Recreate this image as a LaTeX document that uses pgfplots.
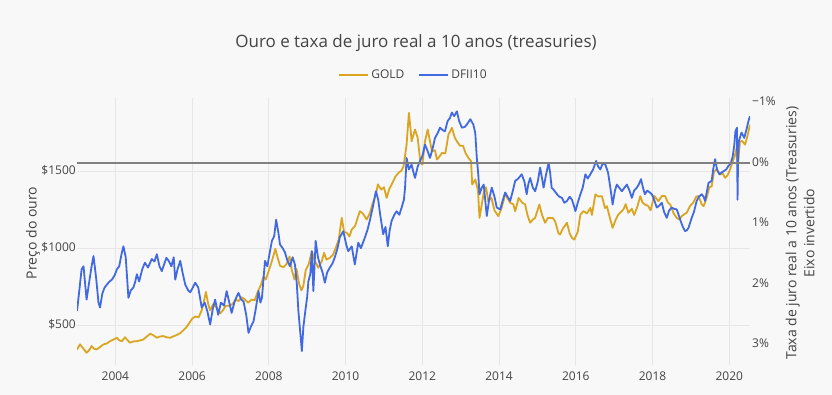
\documentclass[border=0pt]{standalone}
\usepackage{fontspec}
\setmainfont{Open Sans}
\usepackage{pgfplots}
\pgfplotsset{compat=1.18}
\definecolor{bg}{HTML}{F8F8F8}
\definecolor{gridc}{HTML}{E6E6E6}
\definecolor{txt}{HTML}{444444}
\definecolor{goldc}{HTML}{DAA520}
\definecolor{bluec}{HTML}{4169E1}
\definecolor{zeroc}{HTML}{808080}
\pgfplotsset{base/.style={
  at={(77pt,30pt)}, anchor=south west, scale only axis,
  width=673pt, height=267pt,
  xmin=2003.0, xmax=2020.54,
  axis line style={draw=none}, major tick length=0pt,
  tick label style={font=\fontsize{12}{14}\selectfont, text=txt},
}}
\begin{document}
\begin{tikzpicture}
\fill[bg] (0pt,0pt) rectangle (832pt,395pt);
\useasboundingbox (0pt,0pt) rectangle (832pt,395pt);
\begin{axis}[base,
  ymin=245, ymax=1980,
  xtick={2004,2006,2008,2010,2012,2014,2016,2018,2020},
  xticklabels={2004,2006,2008,2010,2012,2014,2016,2018,2020},
  ytick={500,1000,1500},
  yticklabels={\$500,\$1000,\$1500},
  xticklabel style={anchor=base, inner sep=0pt, yshift=-16pt},
  yticklabel style={anchor=mid east, inner sep=0pt, xshift=-1pt},
  grid=major, major grid style={gridc, line width=0.9pt},
]
\addplot[goldc, line width=1.8pt, line join=round] table {
2003.00 346
2003.08 379
2003.17 350
2003.25 325
2003.33 345
2003.38 368
2003.45 350
2003.51 346
2003.60 362
2003.69 379
2003.78 385
2003.86 400
2003.95 410
2004.04 422
2004.10 405
2004.17 400
2004.25 425
2004.32 405
2004.38 390
2004.47 398
2004.56 400
2004.65 405
2004.73 411
2004.82 430
2004.91 448
2004.98 440
2005.08 422
2005.16 430
2005.25 433
2005.34 425
2005.43 422
2005.50 430
2005.60 440
2005.68 450
2005.77 470
2005.85 490
2005.92 515
2006.00 545
2006.08 560
2006.17 555
2006.25 600
2006.30 650
2006.36 720
2006.42 640
2006.47 600
2006.55 640
2006.63 620
2006.73 580
2006.80 600
2006.88 630
2006.96 630
2007.05 640
2007.13 670
2007.21 660
2007.29 685
2007.38 670
2007.46 650
2007.55 670
2007.63 665
2007.71 720
2007.80 770
2007.86 820
2007.92 800
2008.00 860
2008.08 920
2008.17 1000
2008.21 960
2008.29 890
2008.38 880
2008.46 900
2008.54 950
2008.60 860
2008.67 800
2008.72 870
2008.79 770
2008.85 730
2008.90 760
2008.96 860
2009.04 900
2009.12 984
2009.20 920
2009.29 877
2009.38 920
2009.44 974
2009.50 930
2009.58 940
2009.67 960
2009.75 1010
2009.82 1060
2009.90 1201
2009.96 1110
2010.03 1104
2010.10 1080
2010.16 1125
2010.25 1150
2010.37 1244
2010.45 1230
2010.55 1190
2010.63 1230
2010.70 1290
2010.79 1350
2010.84 1418
2010.93 1385
2011.00 1400
2011.07 1331
2011.14 1390
2011.20 1418
2011.30 1470
2011.38 1494
2011.46 1510
2011.51 1536
2011.59 1677
2011.65 1883
2011.70 1760
2011.72 1699
2011.81 1775
2011.88 1720
2011.95 1560
2012.00 1547
2012.07 1700
2012.14 1775
2012.25 1634
2012.33 1640
2012.38 1580
2012.45 1600
2012.51 1623
2012.60 1620
2012.68 1742
2012.77 1786
2012.85 1720
2012.90 1699
2012.98 1670
2013.06 1670
2013.13 1620
2013.20 1591
2013.27 1570
2013.30 1418
2013.38 1450
2013.45 1380
2013.49 1201
2013.55 1290
2013.60 1364
2013.66 1400
2013.72 1309
2013.80 1331
2013.88 1250
2013.98 1212
2014.06 1260
2014.16 1353
2014.22 1330
2014.29 1299
2014.37 1290
2014.42 1244
2014.51 1331
2014.60 1300
2014.68 1288
2014.74 1220
2014.81 1169
2014.88 1190
2014.94 1201
2015.05 1288
2015.12 1220
2015.20 1169
2015.27 1200
2015.33 1201
2015.40 1200
2015.46 1179
2015.55 1100
2015.59 1093
2015.66 1130
2015.77 1169
2015.84 1100
2015.90 1071
2015.96 1060
2016.05 1110
2016.12 1223
2016.20 1245
2016.29 1230
2016.38 1266
2016.42 1220
2016.51 1353
2016.59 1340
2016.68 1342
2016.76 1265
2016.81 1277
2016.90 1190
2016.96 1136
2017.04 1190
2017.11 1223
2017.18 1240
2017.24 1255
2017.30 1290
2017.37 1234
2017.46 1260
2017.52 1220
2017.60 1270
2017.68 1342
2017.74 1300
2017.80 1288
2017.88 1280
2017.95 1250
2018.04 1345
2018.15 1309
2018.25 1345
2018.33 1342
2018.40 1300
2018.46 1288
2018.55 1230
2018.63 1201
2018.70 1190
2018.76 1212
2018.83 1225
2018.89 1234
2018.98 1280
2019.06 1299
2019.14 1340
2019.20 1342
2019.28 1290
2019.33 1277
2019.41 1331
2019.48 1400
2019.54 1406
2019.60 1500
2019.66 1515
2019.72 1500
2019.76 1482
2019.83 1490
2019.89 1461
2019.96 1480
2020.02 1515
2020.09 1569
2020.14 1600
2020.17 1634
2020.20 1660
2020.22 1520
2020.25 1620
2020.28 1699
2020.34 1700
2020.41 1677
2020.47 1730
2020.54 1807
};
\end{axis}
\begin{axis}[base,
  ymin=-1.08, ymax=3.33, y dir=reverse,
  axis y line*=right, axis x line=none,
  ytick={-1,0,1,2,3},
  yticklabels={−1\%,0\%,1\%,2\%,3\%},
  yticklabel style={anchor=mid west, inner sep=0pt, xshift=2pt},
  legend style={at={(0.5,1.087)}, anchor=center, draw=none, fill=none,
    font=\fontsize{12}{14}\selectfont, text=txt, legend columns=2,
    /tikz/every even column/.append style={column sep=12pt},
    /tikz/every odd column/.append style={column sep=0pt},
    legend cell align=left},
  legend image code/.code={\draw[#1] (0pt,0pt) -- (29pt,0pt);},
]
\addlegendimage{goldc, line width=2pt}
\addlegendentry{GOLD}
\addplot[bluec, line width=1.8pt, line join=round] table {
2003.00 2.44
2003.06 2.10
2003.12 1.75
2003.17 1.70
2003.25 2.25
2003.32 1.95
2003.38 1.70
2003.43 1.53
2003.50 1.90
2003.56 2.30
2003.60 2.38
2003.66 2.15
2003.72 2.05
2003.78 2.00
2003.85 1.95
2003.91 1.92
2003.98 1.85
2004.04 1.75
2004.10 1.70
2004.16 1.50
2004.21 1.37
2004.27 1.55
2004.34 2.22
2004.40 2.10
2004.47 2.05
2004.52 1.95
2004.56 1.83
2004.62 1.95
2004.70 1.75
2004.77 1.64
2004.85 1.72
2004.95 1.58
2005.02 1.62
2005.08 1.50
2005.15 1.70
2005.21 1.78
2005.28 1.65
2005.33 1.56
2005.40 1.62
2005.46 1.70
2005.52 1.55
2005.56 1.92
2005.62 1.75
2005.69 1.61
2005.75 1.80
2005.82 2.00
2005.90 2.10
2005.95 2.13
2006.02 2.05
2006.08 1.97
2006.16 2.05
2006.25 2.38
2006.33 2.30
2006.40 2.45
2006.47 2.66
2006.54 2.40
2006.60 2.25
2006.68 2.50
2006.75 2.30
2006.83 2.35
2006.90 2.11
2006.97 2.30
2007.03 2.47
2007.10 2.30
2007.16 2.20
2007.21 2.14
2007.28 2.25
2007.34 2.28
2007.41 2.50
2007.47 2.80
2007.53 2.70
2007.60 2.61
2007.66 2.40
2007.73 2.11
2007.78 2.30
2007.82 2.22
2007.90 1.61
2007.96 1.70
2008.03 1.45
2008.08 1.28
2008.14 1.20
2008.19 0.93
2008.25 1.15
2008.29 1.34
2008.36 1.40
2008.42 1.47
2008.48 1.60
2008.55 1.70
2008.62 1.55
2008.68 1.67
2008.73 2.00
2008.77 2.44
2008.82 2.80
2008.86 3.10
2008.90 2.70
2008.95 2.44
2009.00 2.20
2009.03 1.95
2009.08 1.83
2009.12 1.45
2009.16 2.11
2009.22 1.28
2009.28 1.55
2009.33 1.67
2009.40 1.80
2009.46 1.97
2009.52 1.80
2009.59 1.72
2009.66 1.65
2009.72 1.55
2009.79 1.40
2009.85 1.22
2009.94 1.12
2010.02 1.35
2010.07 1.45
2010.16 1.37
2010.24 1.67
2010.33 1.31
2010.40 1.40
2010.50 1.23
2010.57 1.10
2010.63 0.95
2010.70 0.75
2010.79 0.46
2010.85 0.60
2010.90 0.84
2010.98 1.17
2011.04 1.05
2011.10 1.37
2011.15 1.10
2011.20 0.95
2011.27 0.85
2011.33 0.79
2011.40 0.85
2011.46 0.73
2011.52 0.60
2011.55 0.40
2011.59 -0.09
2011.65 0.10
2011.72 0.02
2011.77 0.15
2011.81 0.24
2011.88 0.05
2011.94 -0.04
2012.00 -0.12
2012.07 -0.31
2012.14 -0.20
2012.20 -0.09
2012.27 -0.25
2012.33 -0.42
2012.40 -0.50
2012.46 -0.59
2012.53 -0.55
2012.59 -0.53
2012.66 -0.70
2012.72 -0.75
2012.77 -0.84
2012.83 -0.78
2012.90 -0.86
2012.96 -0.70
2013.03 -0.59
2013.10 -0.60
2013.16 -0.64
2013.25 -0.73
2013.33 -0.64
2013.38 -0.50
2013.42 -0.09
2013.46 0.20
2013.49 0.51
2013.55 0.40
2013.60 0.35
2013.68 0.87
2013.74 0.60
2013.81 0.40
2013.88 0.55
2013.94 0.73
2014.03 0.76
2014.10 0.60
2014.16 0.48
2014.22 0.55
2014.29 0.62
2014.36 0.45
2014.42 0.29
2014.50 0.25
2014.59 0.18
2014.66 0.30
2014.72 0.51
2014.76 0.35
2014.81 0.24
2014.88 0.40
2014.94 0.46
2015.01 0.30
2015.07 0.07
2015.12 0.25
2015.16 0.40
2015.22 0.20
2015.29 -0.01
2015.33 0.15
2015.37 0.40
2015.44 0.45
2015.51 0.51
2015.57 0.55
2015.64 0.57
2015.70 0.65
2015.77 0.62
2015.84 0.55
2015.90 0.60
2015.95 0.70
2015.99 0.79
2016.05 0.65
2016.12 0.51
2016.18 0.40
2016.25 0.18
2016.31 0.25
2016.38 0.18
2016.45 0.10
2016.53 -0.04
2016.58 0.05
2016.64 0.10
2016.70 0.00
2016.77 0.02
2016.84 0.15
2016.90 0.40
2016.96 0.68
2017.02 0.45
2017.07 0.35
2017.13 0.40
2017.20 0.46
2017.27 0.40
2017.33 0.35
2017.40 0.45
2017.46 0.57
2017.52 0.45
2017.59 0.40
2017.64 0.35
2017.70 0.26
2017.75 0.40
2017.80 0.51
2017.86 0.45
2017.93 0.48
2017.98 0.51
2018.04 0.60
2018.11 0.73
2018.17 0.70
2018.24 0.65
2018.30 0.80
2018.37 0.90
2018.43 0.78
2018.50 0.73
2018.56 0.75
2018.63 0.76
2018.68 0.85
2018.72 0.93
2018.79 1.05
2018.85 1.12
2018.90 1.10
2018.94 1.06
2019.02 0.90
2019.08 0.80
2019.15 0.62
2019.21 0.55
2019.28 0.51
2019.33 0.55
2019.37 0.62
2019.42 0.45
2019.46 0.32
2019.54 0.29
2019.58 0.10
2019.63 -0.07
2019.68 0.10
2019.74 0.18
2019.80 0.15
2019.85 0.13
2019.92 0.10
2019.98 0.04
2020.04 0.00
2020.09 -0.12
2020.13 -0.30
2020.16 -0.53
2020.20 -0.59
2020.215 0.60
2020.23 -0.10
2020.25 -0.37
2020.32 -0.51
2020.39 -0.42
2020.46 -0.59
2020.50 -0.70
2020.54 -0.78
};
\addlegendentry{DFII10}
\addplot[zeroc, line width=2pt, forget plot] coordinates {(2003.0,0) (2020.54,0)};
\end{axis}
\node[text=txt, font=\fontsize{17}{20}\selectfont] at (416pt,352pt) {Ouro e taxa de juro real a 10 anos (treasuries)};
\node[text=txt, font=\fontsize{14}{16}\selectfont, rotate=90] at (33pt,162pt) {Preço do ouro};
\node[text=txt, font=\fontsize{14}{18}\selectfont, rotate=90, align=center] at (800pt,162pt) {Taxa de juro real a 10 anos (Treasuries)\\Eixo invertido};
\end{tikzpicture}
\end{document}
